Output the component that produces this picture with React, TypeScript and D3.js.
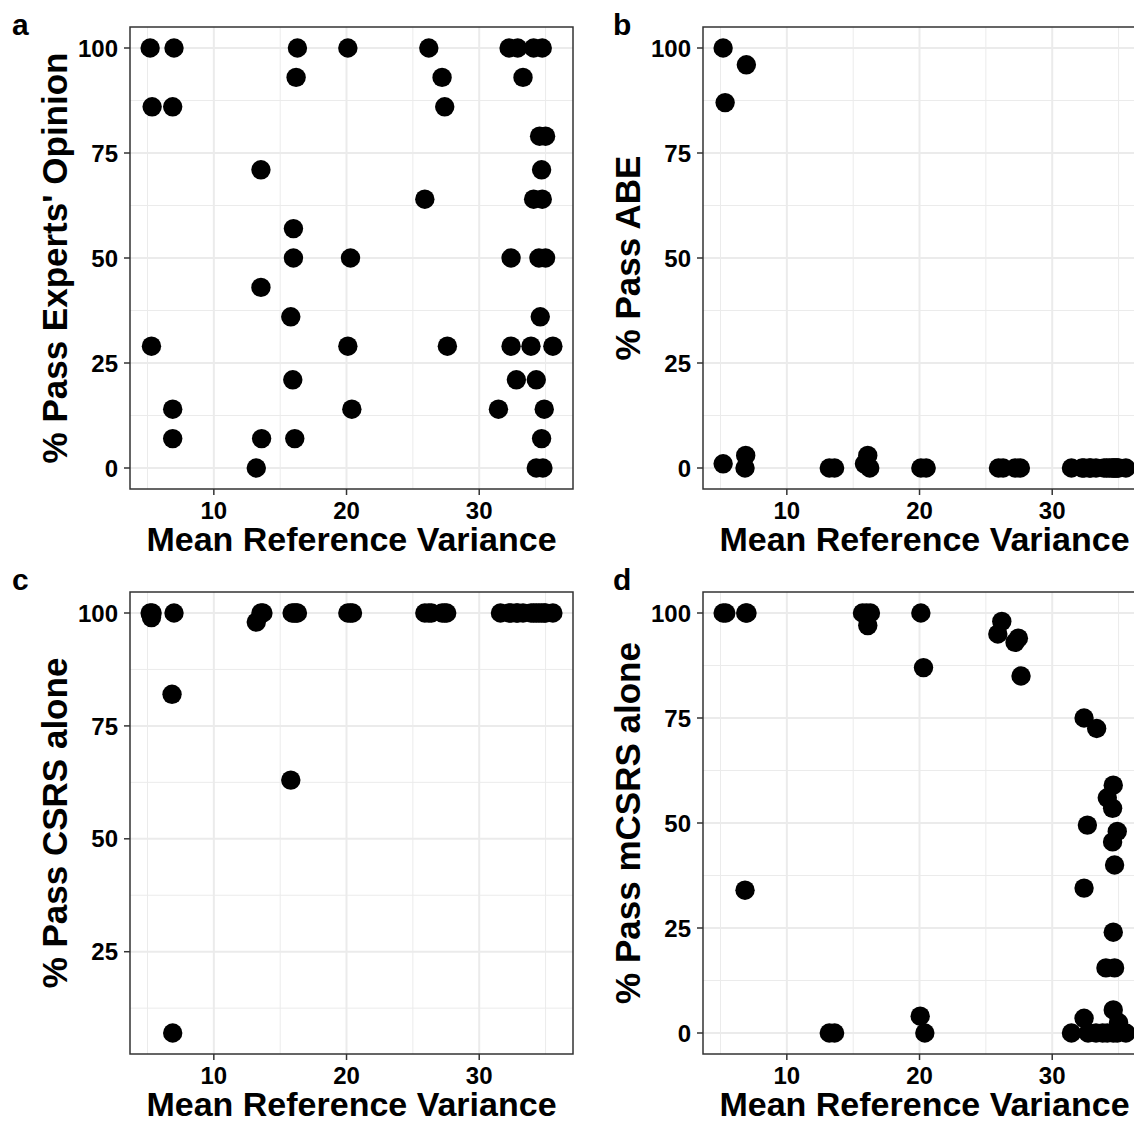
import React from 'react';
import * as d3 from 'd3';

const width = 1134;
const height = 1123;
const plotW = 443;
const plotH = 462;
const font = '"Liberation Sans", Arial, sans-serif';
const gridMajor = '#ebebeb';
const frame = '#333333';

// a: % Pass Experts' Opinion
const aX = [5.2, 7.0, 16.3, 20.1, 26.2, 32.25, 32.9, 34.1, 34.75, 16.2, 27.2, 33.3, 5.35, 6.9, 27.4, 34.55, 35.0, 13.55, 34.7, 25.9, 34.1, 34.75, 16.0, 16.0, 20.3, 32.4, 34.5, 35.0, 13.55, 15.8, 34.6, 5.3, 20.1, 27.6, 32.4, 33.9, 35.55, 15.95, 32.8, 34.3, 6.9, 20.4, 31.45, 34.9, 6.9, 13.6, 16.1, 34.7, 13.2, 34.3, 34.8];
const aY = [100, 100, 100, 100, 100, 100, 100, 100, 100, 93, 93, 93, 86, 86, 86, 79, 79, 71, 71, 64, 64, 64, 57, 50, 50, 50, 50, 50, 43, 36, 36, 29, 29, 29, 29, 29, 29, 21, 21, 21, 14, 14, 14, 14, 7, 7, 7, 7, 0, 0, 0];

// b: % Pass ABE
const bX = [5.2, 6.95, 5.35, 5.2, 6.9, 6.85, 13.2, 13.6, 15.85, 16.1, 16.25, 20.1, 20.5, 25.95, 26.3, 27.2, 27.6, 31.45, 32.25, 32.4, 32.8, 32.9, 33.3, 33.9, 34.1, 34.3, 34.5, 34.6, 34.7, 34.8, 34.9, 35.0, 35.55];
const bY = [100, 96, 87, 1, 3, 0, 0, 0, 1, 3, 0, 0, 0, 0, 0, 0, 0, 0, 0, 0, 0, 0, 0, 0, 0, 0, 0, 0, 0, 0, 0, 0, 0];

// c: % Pass CSRS alone
const cX = [5.2, 5.35, 5.3, 7.0, 6.85, 6.9, 13.2, 13.55, 13.7, 15.9, 16.05, 16.2, 16.3, 15.8, 20.1, 20.3, 20.45, 25.9, 26.2, 26.4, 27.2, 27.4, 27.55, 31.6, 32.25, 32.4, 32.8, 32.9, 33.3, 33.9, 34.1, 34.3, 34.5, 34.7, 34.9, 35.0, 35.55];
const cY = [100, 100, 99, 100, 82, 7, 98, 100, 100, 100, 100, 100, 100, 63, 100, 100, 100, 100, 100, 100, 100, 100, 100, 100, 100, 100, 100, 100, 100, 100, 100, 100, 100, 100, 100, 100, 100];

// d: % Pass mCSRS alone
const dX = [5.2, 5.4, 6.9, 7.0, 6.85, 13.2, 13.6, 15.7, 16.0, 16.3, 16.1, 20.1, 20.3, 20.05, 20.4, 26.2, 25.9, 27.45, 27.2, 27.65, 32.4, 33.35, 34.6, 34.15, 34.55, 32.65, 34.9, 34.55, 34.7, 32.4, 34.6, 34.05, 34.7, 34.6, 32.4, 35.0, 31.45, 32.7, 33.3, 33.8, 34.15, 34.6, 34.9, 35.55];
const dY = [100, 100, 100, 100, 34, 0, 0, 100, 100, 100, 97, 100, 87, 4, 0, 98, 95, 94, 93, 85, 75, 72.5, 59, 56, 53.5, 49.5, 48, 45.5, 40, 34.5, 24, 15.5, 15.5, 5.5, 3.5, 2.5, 0, 0, 0, 0, 0, 0, 0, 0];

const xTicks = [10, 20, 30];
const xMinor = [5, 15, 25, 35];
const yTicksFull = [0, 25, 50, 75, 100];
const yTicksC = [25, 50, 75, 100];
const yMinor = [12.5, 37.5, 62.5, 87.5];

const expand = (ext: [number, number]): [number, number] => {
  const r = ext[1] - ext[0];
  return [ext[0] - 0.05 * r, ext[1] + 0.05 * r];
};

const xDomain = expand(d3.extent([...aX, ...bX, ...cX, ...dX]) as [number, number]);

type PanelProps = {
  xs: number[];
  ys: number[];
  yTicks: number[];
  yTitle: string;
  label: string;
  left: number;
  top: number;
  labelX: number;
  labelY: number;
};

function Panel({ xs, ys, yTicks, yTitle, label, left, top, labelX, labelY }: PanelProps) {
  const x = d3.scaleLinear().domain(xDomain).range([0, plotW]);
  const y = d3.scaleLinear().domain(expand(d3.extent(ys) as [number, number])).range([plotH, 0]);
  const clipId = 'clip-' + label;
  const minorY = yMinor.filter(v => v > y.domain()[0] && v < y.domain()[1]);
  return (
    <g>
      <text x={labelX} y={labelY} fontFamily={font} fontWeight="bold" fontSize={30} fill="#000">{label}</text>
      <g transform={`translate(${left},${top})`}>
        <defs>
          <clipPath id={clipId}><rect x={0} y={0} width={plotW} height={plotH} /></clipPath>
        </defs>
        <rect x={0} y={0} width={plotW} height={plotH} fill="#fff" />
        {xMinor.map(v => <line key={'xm' + v} x1={x(v)} x2={x(v)} y1={0} y2={plotH} stroke={gridMajor} strokeWidth={1} />)}
        {minorY.map(v => <line key={'ym' + v} x1={0} x2={plotW} y1={y(v)} y2={y(v)} stroke={gridMajor} strokeWidth={1} />)}
        {xTicks.map(v => <line key={'xg' + v} x1={x(v)} x2={x(v)} y1={0} y2={plotH} stroke={gridMajor} strokeWidth={2} />)}
        {yTicks.map(v => <line key={'yg' + v} x1={0} x2={plotW} y1={y(v)} y2={y(v)} stroke={gridMajor} strokeWidth={2} />)}
        <g clipPath={`url(#${clipId})`}>
          {xs.map((v, i) => <circle key={i} cx={x(v)} cy={y(ys[i])} r={9.7} fill="#000" />)}
        </g>
        <rect x={0} y={0} width={plotW} height={plotH} fill="none" stroke={frame} strokeWidth={1.5} />
        {xTicks.map(v => (
          <g key={'xt' + v}>
            <line x1={x(v)} x2={x(v)} y1={plotH} y2={plotH + 6} stroke={frame} strokeWidth={1.5} />
            <text x={x(v)} y={plotH + 30} textAnchor="middle" fontFamily={font} fontWeight="bold" fontSize={24} fill="#000">{v}</text>
          </g>
        ))}
        {yTicks.map(v => (
          <g key={'yt' + v}>
            <line x1={-6} x2={0} y1={y(v)} y2={y(v)} stroke={frame} strokeWidth={1.5} />
            <text x={-12} y={y(v)} dy="0.36em" textAnchor="end" fontFamily={font} fontWeight="bold" fontSize={24} fill="#000">{v}</text>
          </g>
        ))}
        <text x={plotW / 2} y={plotH + 62} textAnchor="middle" fontFamily={font} fontWeight="bold" fontSize={34} fill="#000">Mean Reference Variance</text>
        <text transform={`translate(${-63},${plotH / 2}) rotate(-90)`} textAnchor="middle" fontFamily={font} fontWeight="bold" fontSize={35} fill="#000">{yTitle}</text>
      </g>
    </g>
  );
}

export default function App() {
  return (
    <svg width={width} height={height} style={{ position: 'absolute', left: 0, top: 0, background: '#fff' }}>
      <rect x={0} y={0} width={width} height={height} fill="#fff" />
      <Panel xs={aX} ys={aY} yTicks={yTicksFull} yTitle="% Pass Experts' Opinion" label="a" left={130} top={27} labelX={12} labelY={35} />
      <Panel xs={bX} ys={bY} yTicks={yTicksFull} yTitle="% Pass ABE" label="b" left={703} top={27} labelX={613} labelY={35} />
      <Panel xs={cX} ys={cY} yTicks={yTicksC} yTitle="% Pass CSRS alone" label="c" left={130} top={592} labelX={12} labelY={590} />
      <Panel xs={dX} ys={dY} yTicks={yTicksFull} yTitle="% Pass mCSRS alone" label="d" left={703} top={592} labelX={613} labelY={590} />
    </svg>
  );
}
